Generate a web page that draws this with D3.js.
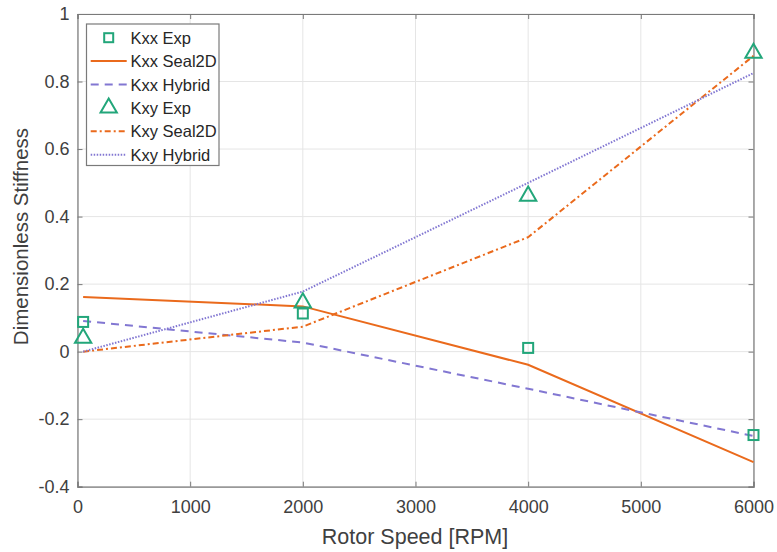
<!DOCTYPE html>
<html><head><meta charset="utf-8">
<script src="https://cdn.jsdelivr.net/npm/d3@7"></script>
<style>body{margin:0;background:#fff}svg{display:block;font-family:"Liberation Sans",Arial,sans-serif}</style>
</head><body><svg id="c" width="777" height="552"></svg>
<script>
const speeds = [50, 2000, 4000, 6000];
const kxxExp = [0.088, 0.113, 0.011, -0.247];
const kxxSeal2D = [0.162, 0.134, -0.039, -0.327];
const kxxHybrid = [0.091, 0.027, -0.11, -0.25];
const kxyExp = [0.04, 0.145, 0.461, 0.884];
const kxySeal2D = [0.0, 0.074, 0.339, 0.876];
const kxyHybrid = [0.0, 0.178, 0.5, 0.825];
const xTicks = [0, 1000, 2000, 3000, 4000, 5000, 6000];
const yTicks = [-0.4, -0.2, 0, 0.2, 0.4, 0.6, 0.8, 1];
const legendLabels = ["Kxx Exp", "Kxx Seal2D", "Kxx Hybrid", "Kxy Exp", "Kxy Seal2D", "Kxy Hybrid"];

const green = "#22a67a", orange = "#ea6a1c", purple = "#8277d2";
const svg = d3.select("#c");
const L = 77.5, R = 753.5, T = 14, B = 486.7;
const x = d3.scaleLinear().domain([0, 6000]).range([L, R]);
const y = d3.scaleLinear().domain([-0.4, 1]).range([B, T]);

// grid
const g = svg.append("g");
g.selectAll(".gx").data(xTicks).enter().append("line")
  .attr("x1", d => x(d)).attr("x2", d => x(d)).attr("y1", T).attr("y2", B)
  .attr("stroke", "#e5e5e5").attr("stroke-width", 1);
g.selectAll(".gy").data(yTicks).enter().append("line")
  .attr("y1", d => y(d)).attr("y2", d => y(d)).attr("x1", L).attr("x2", R)
  .attr("stroke", "#e5e5e5").attr("stroke-width", 1);

// axes
const fmt = d => d === 0 ? "0" : String(d);
const xAxis = d3.axisBottom(x).tickValues(xTicks).tickFormat(d => String(d)).tickSize(-5).tickPadding(14);
const yAxis = d3.axisLeft(y).tickValues(yTicks).tickFormat(fmt).tickSize(-5).tickPadding(8);
svg.append("g").attr("transform", `translate(0,${B})`).call(xAxis);
svg.append("g").attr("transform", `translate(${L},0)`).call(yAxis);
svg.append("g").attr("transform", `translate(0,${T})`).call(d3.axisTop(x).tickValues(xTicks).tickFormat("").tickSize(-5));
svg.append("g").attr("transform", `translate(${R},0)`).call(d3.axisRight(y).tickValues(yTicks).tickFormat("").tickSize(-5));
svg.selectAll(".domain").attr("stroke", "#7a7a7a").attr("stroke-width", 1.2);
svg.selectAll(".tick line").attr("stroke", "#7a7a7a");
svg.selectAll(".tick text").attr("fill", "#404040").attr("font-size", 18).attr("font-family", "Liberation Sans, Arial, sans-serif");

// labels
svg.append("text").attr("x", 415).attr("y", 544).attr("text-anchor", "middle")
  .attr("font-size", 21.5).attr("fill", "#404040").text("Rotor Speed [RPM]");
svg.append("text").attr("transform", `translate(28,236.5) rotate(-90)`).attr("text-anchor", "middle")
  .attr("font-size", 20.5).attr("fill", "#404040").text("Dimensionless Stiffness");

// lines
const line = d3.line().x(d => x(d[0])).y(d => y(d[1]));
const zip = v => speeds.map((s, i) => [s, v[i]]);
const series = [
  {v: kxxSeal2D, c: orange, dash: null, w: 2},
  {v: kxxHybrid, c: purple, dash: "8,6", w: 2},
  {v: kxySeal2D, c: orange, dash: "6,3,2,3", w: 2},
  {v: kxyHybrid, c: purple, dash: "1.5,1.5", w: 2}
];
const plot = svg.append("g");
series.forEach(s => {
  plot.append("path").datum(zip(s.v)).attr("d", line).attr("fill", "none")
    .attr("stroke", s.c).attr("stroke-width", s.w).attr("stroke-dasharray", s.dash);
});
// markers
plot.selectAll(".sq").data(zip(kxxExp)).enter().append("rect")
  .attr("x", d => x(d[0]) - 5).attr("y", d => y(d[1]) - 5).attr("width", 10).attr("height", 10)
  .attr("fill", "none").attr("stroke", green).attr("stroke-width", 2);
const tri = d3.symbol().type(d3.symbolTriangle).size(115);
plot.selectAll(".tr").data(zip(kxyExp)).enter().append("path")
  .attr("d", tri).attr("transform", d => `translate(${x(d[0])},${y(d[1])})`)
  .attr("fill", "none").attr("stroke", green).attr("stroke-width", 2);

// legend
const lg = svg.append("g");
lg.append("rect").attr("x", 86.5).attr("y", 24).attr("width", 132.5).attr("height", 141.5)
  .attr("fill", "#fff").attr("stroke", "#7a7a7a").attr("stroke-width", 1.2);
const ly = i => 37.7 + i * 23.4;
const types = ["sq", null, "8,6", "tri", "6,3,2,3", "1.5,1.5"];
const cols = [green, orange, purple, green, orange, purple];
legendLabels.forEach((lab, i) => {
  const t = types[i];
  if (t === "sq") {
    lg.append("rect").attr("x", 108.7 - 4.5).attr("y", ly(i) - 4.5).attr("width", 9).attr("height", 9)
      .attr("fill", "none").attr("stroke", green).attr("stroke-width", 2);
  } else if (t === "tri") {
    lg.append("path").attr("d", tri).attr("transform", `translate(108.7,${ly(i)})`)
      .attr("fill", "none").attr("stroke", green).attr("stroke-width", 2);
  } else {
    lg.append("line").attr("x1", 90.7).attr("x2", 126.7).attr("y1", ly(i)).attr("y2", ly(i))
      .attr("stroke", cols[i]).attr("stroke-width", 2).attr("stroke-dasharray", t);
  }
  lg.append("text").attr("x", 130.5).attr("y", ly(i) + 6).attr("font-size", 16.5).attr("fill", "#262626").text(lab);
});
</script></body></html>
